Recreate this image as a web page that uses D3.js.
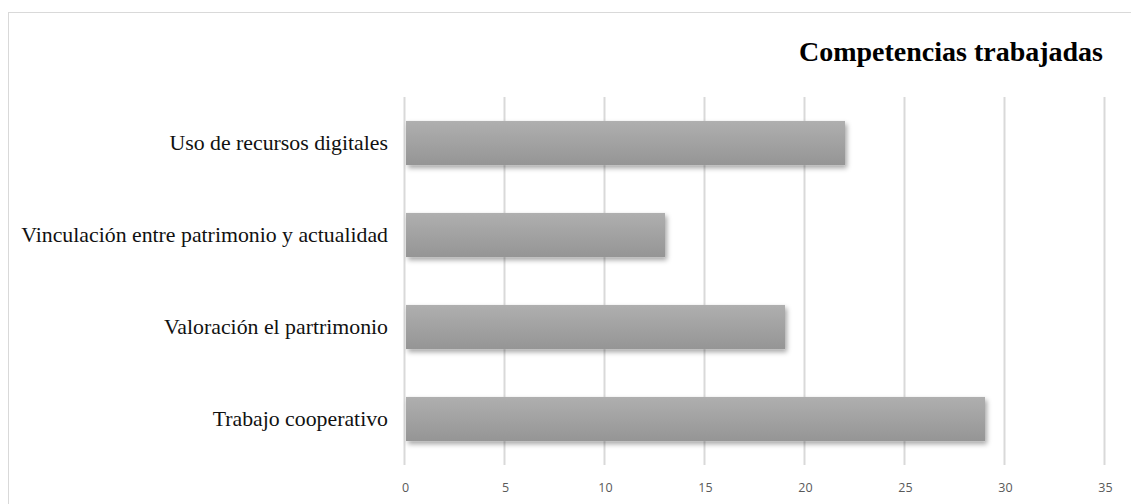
<!DOCTYPE html>
<html>
<head>
<meta charset="utf-8">
<script src="https://cdn.jsdelivr.net/npm/d3@7"></script>
<style>
  body { margin: 0; background: #fff; }
</style>
</head>
<body>
<div id="chart"></div>
<script>
// data
let categories = ["Uso de recursos digitales", "Vinculación entre patrimonio y actualidad", "Valoración el partrimonio ", "Trabajo cooperativo"];
let values = [22, 13, 19, 29];
let tickValues = [0, 5, 10, 15, 20, 25, 30, 35];

let svgWidth = 1131;
let svgHeight = 504;

let margin = { top: 97, right: 26, bottom: 39, left: 405 };
let width = svgWidth - margin.left - margin.right;
let height = svgHeight - margin.top - margin.bottom;

let svg = d3.select("#chart")
    .append("svg")
    .attr("width", svgWidth)
    .attr("height", svgHeight);

// outer frame
svg.append("rect")
    .attr("x", 8.5)
    .attr("y", 12.5)
    .attr("width", 1140)
    .attr("height", 520)
    .attr("fill", "none")
    .attr("stroke", "#d9d9d9")
    .attr("stroke-width", 1);

let defs = svg.append("defs");
let grad = defs.append("linearGradient")
    .attr("id", "barGrad")
    .attr("x1", 0).attr("y1", 0).attr("x2", 0).attr("y2", 1);
grad.append("stop").attr("offset", "0%").attr("stop-color", "#afafaf");
grad.append("stop").attr("offset", "100%").attr("stop-color", "#959595");

let shadow = defs.append("filter")
    .attr("id", "shadow")
    .attr("x", "-10%").attr("y", "-30%")
    .attr("width", "120%").attr("height", "180%");
shadow.append("feDropShadow")
    .attr("dx", 2).attr("dy", 3)
    .attr("stdDeviation", 2.5)
    .attr("flood-color", "#000")
    .attr("flood-opacity", 0.35);

let chartGroup = svg.append("g")
    .attr("transform", `translate(${margin.left}, ${margin.top})`);

let xScale = d3.scaleLinear()
    .domain([0, 35])
    .range([0, 700]);

let yScale = d3.scaleBand()
    .domain(categories)
    .range([0, height])
    .paddingInner(0.52)
    .paddingOuter(0.26);

// gridlines
chartGroup.selectAll(".grid")
    .data(tickValues)
    .enter()
    .append("line")
    .attr("x1", d => xScale(d) - 0.5)
    .attr("x2", d => xScale(d) - 0.5)
    .attr("y1", 0)
    .attr("y2", height)
    .attr("stroke", "#d9d9d9")
    .attr("stroke-width", 2);

// bars
chartGroup.selectAll(".bar")
    .data(values)
    .enter()
    .append("rect")
    .attr("x", 1)
    .attr("y", (d, i) => yScale(categories[i]))
    .attr("width", d => xScale(d) - 1)
    .attr("height", yScale.bandwidth())
    .attr("fill", "url(#barGrad)")
    .attr("filter", "url(#shadow)");

// x axis labels
let bottomAxis = d3.axisBottom(xScale)
    .tickValues(tickValues)
    .tickSize(0)
    .tickPadding(18);

let xAxis = chartGroup.append("g")
    .attr("transform", `translate(0, ${height})`)
    .call(bottomAxis);
xAxis.select(".domain").remove();
xAxis.selectAll("text")
    .attr("fill", "#595959")
    .style("font-family", "'Open Sans', 'Liberation Sans', sans-serif")
    .style("font-size", "12.5px");

// y axis labels
let leftAxis = d3.axisLeft(yScale)
    .tickSize(0)
    .tickPadding(17);

let yAxis = chartGroup.append("g").call(leftAxis);
yAxis.select(".domain").remove();
yAxis.selectAll("text")
    .attr("fill", "#111")
    .style("font-family", "'Liberation Serif', 'Times New Roman', serif")
    .style("font-size", "21.8px");

// title
svg.append("text")
    .attr("x", 1103)
    .attr("y", 61)
    .attr("text-anchor", "end")
    .style("font-family", "'Liberation Serif', 'Times New Roman', serif")
    .style("font-size", "28px")
    .style("font-weight", "bold")
    .attr("fill", "#000")
    .text("Competencias trabajadas");
</script>
</body>
</html>
